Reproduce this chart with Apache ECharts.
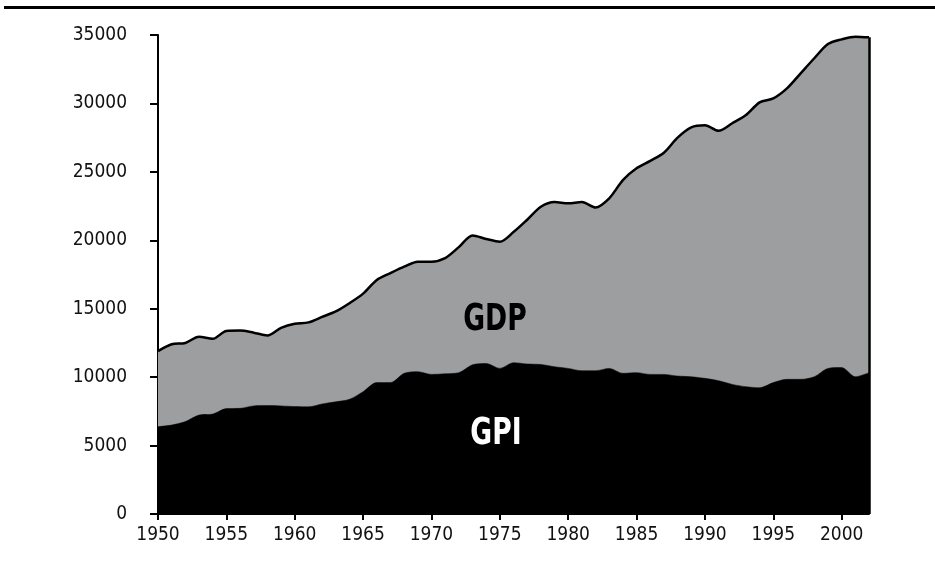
<!DOCTYPE html>
<html>
<head>
<meta charset="utf-8">
<script src="https://cdn.jsdelivr.net/npm/echarts@6/dist/echarts.min.js"></script>
<style>
  html, body { margin: 0; padding: 0; background: #fff; }
  #container { width: 935px; height: 563px; }
</style>
</head>
<body>
<div id="container"></div>
<script>
var years = [];
for (var y = 1950; y <= 2002; y++) years.push(y);

// per-capita values
var gdp = [
    11900, 12400, 12500, 12950, 12800, 13370, 13400, 13250, 13050, 13600,
    13900, 14000, 14400, 14800, 15400, 16100, 17100, 17600, 18070, 18440,
    18440, 18700, 19500, 20350, 20100, 19900, 20600, 21500, 22450, 22800,
    22700, 22800, 22400, 23070, 24400, 25260, 25800, 26400, 27500, 28250,
    28400, 28000, 28550, 29150, 30080, 30370, 31100, 32200, 33300, 34340,
    34680, 34880, 34830
];
var gpi = [
    6380, 6500, 6750, 7230, 7300, 7700, 7720, 7900, 7920, 7900,
    7850, 7830, 8040, 8200, 8380, 8940, 9600, 9600, 10280, 10400,
    10200, 10250, 10330, 10900, 11000, 10640, 11060, 10960, 10930, 10760,
    10640, 10470, 10470, 10640, 10280, 10330, 10200, 10200, 10080, 10030,
    9910, 9740, 9470, 9300, 9230, 9600, 9840, 9840, 10030, 10640,
    10700, 10030, 10330
];
var yTicks = [0, 5000, 10000, 15000, 20000, 25000, 30000, 35000];

var dom = document.getElementById('container');
var myChart = echarts.init(dom, null, { renderer: 'canvas' });

var font = '"DejaVu Sans Condensed", "Liberation Sans Narrow", sans-serif';

function pairs(vals) {
    return years.map(function (yr, i) { return [yr, vals[i]]; });
}

var option = {
    animation: false,
    backgroundColor: '#ffffff',
    grid: { left: 158, right: 66, top: 35, bottom: 49 },
    xAxis: {
        type: 'value',
        min: 1950,
        max: 2002,
        interval: 5,
        axisLine: { show: true, lineStyle: { color: '#000', width: 2 } },
        axisTick: { show: true, length: 6, lineStyle: { color: '#000', width: 2 } },
        axisLabel: {
            color: '#111', fontSize: 19, fontFamily: font, margin: 12,
            showMaxLabel: false,
            formatter: function (v) { return v % 5 === 0 ? String(v) : ''; }
        },
        splitLine: { show: false }
    },
    yAxis: {
        type: 'value',
        min: yTicks[0],
        max: yTicks[yTicks.length - 1],
        interval: 5000,
        axisLine: { show: true, lineStyle: { color: '#000', width: 2 } },
        axisTick: { show: true, length: 8, lineStyle: { color: '#000', width: 2 } },
        axisLabel: {
            color: '#111', fontSize: 19, fontFamily: font, margin: 31,
            formatter: function (v) { return String(v); }
        },
        splitLine: { show: false }
    },
    series: [
        {
            name: 'GDP',
            type: 'line',
            data: pairs(gdp),
            smooth: 0.3,
            symbol: 'none',
            lineStyle: { color: '#000', width: 2.5 },
            areaStyle: { color: '#9d9ea0', opacity: 1 },
            markLine: {
                silent: true,
                symbol: 'none',
                label: { show: false },
                lineStyle: { color: '#000', width: 2.5, type: 'solid' },
                data: [[
                    { coord: [years[years.length - 1], 0] },
                    { coord: [years[years.length - 1], gdp[gdp.length - 1]] }
                ]]
            },
            z: 2
        },
        {
            name: 'GPI',
            type: 'line',
            data: pairs(gpi),
            smooth: 0.3,
            symbol: 'none',
            lineStyle: { color: '#000', width: 0.5 },
            areaStyle: { color: '#000', opacity: 1 },
            z: 3
        }
    ],
    graphic: [
        {
            type: 'rect',
            left: 4, top: 6,
            shape: { width: 931, height: 3 },
            style: { fill: '#000' }
        },
        {
            type: 'text',
            x: 495, y: 320,
            scaleX: 0.8,
            style: {
                text: 'GDP', fill: '#000', font: 'bold 37px ' + font,
                align: 'center', verticalAlign: 'middle'
            },
            z: 10
        },
        {
            type: 'text',
            x: 496, y: 434,
            scaleX: 0.8,
            style: {
                text: 'GPI', fill: '#fff', font: 'bold 37px ' + font,
                align: 'center', verticalAlign: 'middle'
            },
            z: 10
        }
    ]
};

myChart.setOption(option);
window.addEventListener('resize', myChart.resize);
</script>
</body>
</html>
